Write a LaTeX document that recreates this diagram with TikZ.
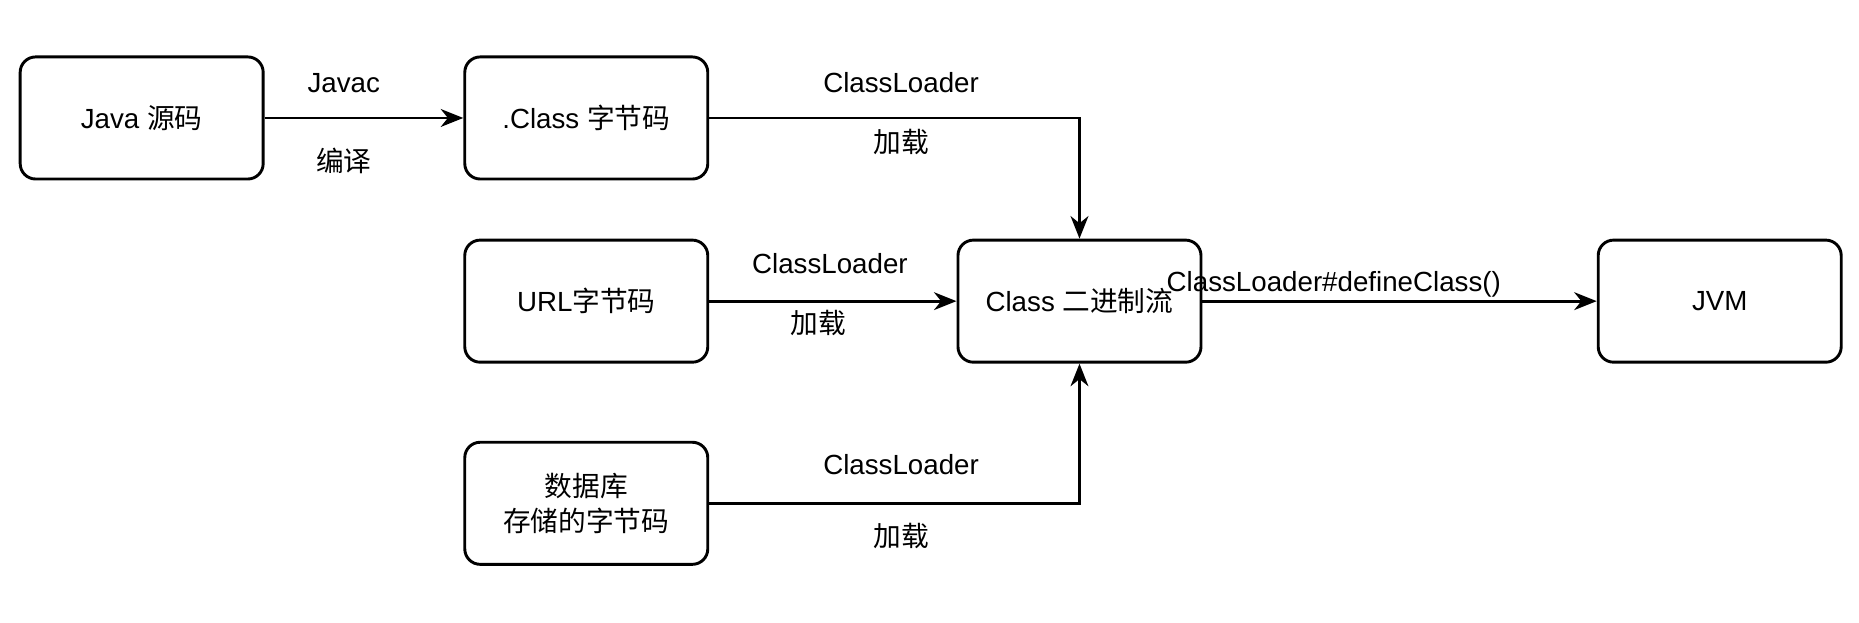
\documentclass[tikz,border=0pt]{standalone}
\usepackage{fontspec}
\setmainfont{Liberation Sans}
\newfontfamily\cjk{Noto Sans CJK SC}
\usetikzlibrary{arrows.meta}
\begin{document}
\begin{tikzpicture}[x=0.02cm,y=-0.02cm,
  box/.style={draw,line width=1.4pt,rounded corners=0.26cm,minimum width=4.1cm,minimum height=2.06cm,align=center,font=\fontsize{13.3}{17}\selectfont},
  lbl/.style={font=\fontsize{13.3}{17}\selectfont},
  arr/.style={line width=1.4pt,-{Stealth[length=0.38cm,width=0.3cm,inset=0.12cm]}}]
\useasboundingbox (0,0) rectangle (1568,525);
\node[box] (java) at (119.5,99.5) {Java {\cjk 源码}};
\node[box] (cls) at (494.5,99.5) {.Class {\cjk 字节码}};
\node[box] (url) at (494.5,254) {URL{\cjk 字节码}};
\node[box] (db) at (494.5,424.5) {{\cjk 数据库}\\{\cjk 存储的字节码}};
\node[box] (bin) at (910.5,254) {Class {\cjk 二进制流}};
\node[box] (jvm) at (1450.5,254) {JVM};
\draw[arr] (java) -- (cls);
\draw[arr] (cls.east) -| (bin.north);
\draw[arr] (url) -- (bin);
\draw[arr] (db.east) -| (bin.south);
\draw[arr] (bin) -- (jvm);
\node[lbl] (l1) at (290,70) {Javac};
\node[lbl] (l2) at (290,136) {\cjk 编译};
\node[lbl] (l3) at (760,70) {ClassLoader};
\node[lbl] (l4) at (760,120) {\cjk 加载};
\node[lbl] (l5) at (700,222) {ClassLoader};
\node[lbl] (l6) at (690,272) {\cjk 加载};
\node[lbl] (l7) at (760,392) {ClassLoader};
\node[lbl] (l8) at (760,452) {\cjk 加载};
\node[lbl] (l9) at (1125,240) {ClassLoader\#defineClass()};
\end{tikzpicture}
\end{document}
